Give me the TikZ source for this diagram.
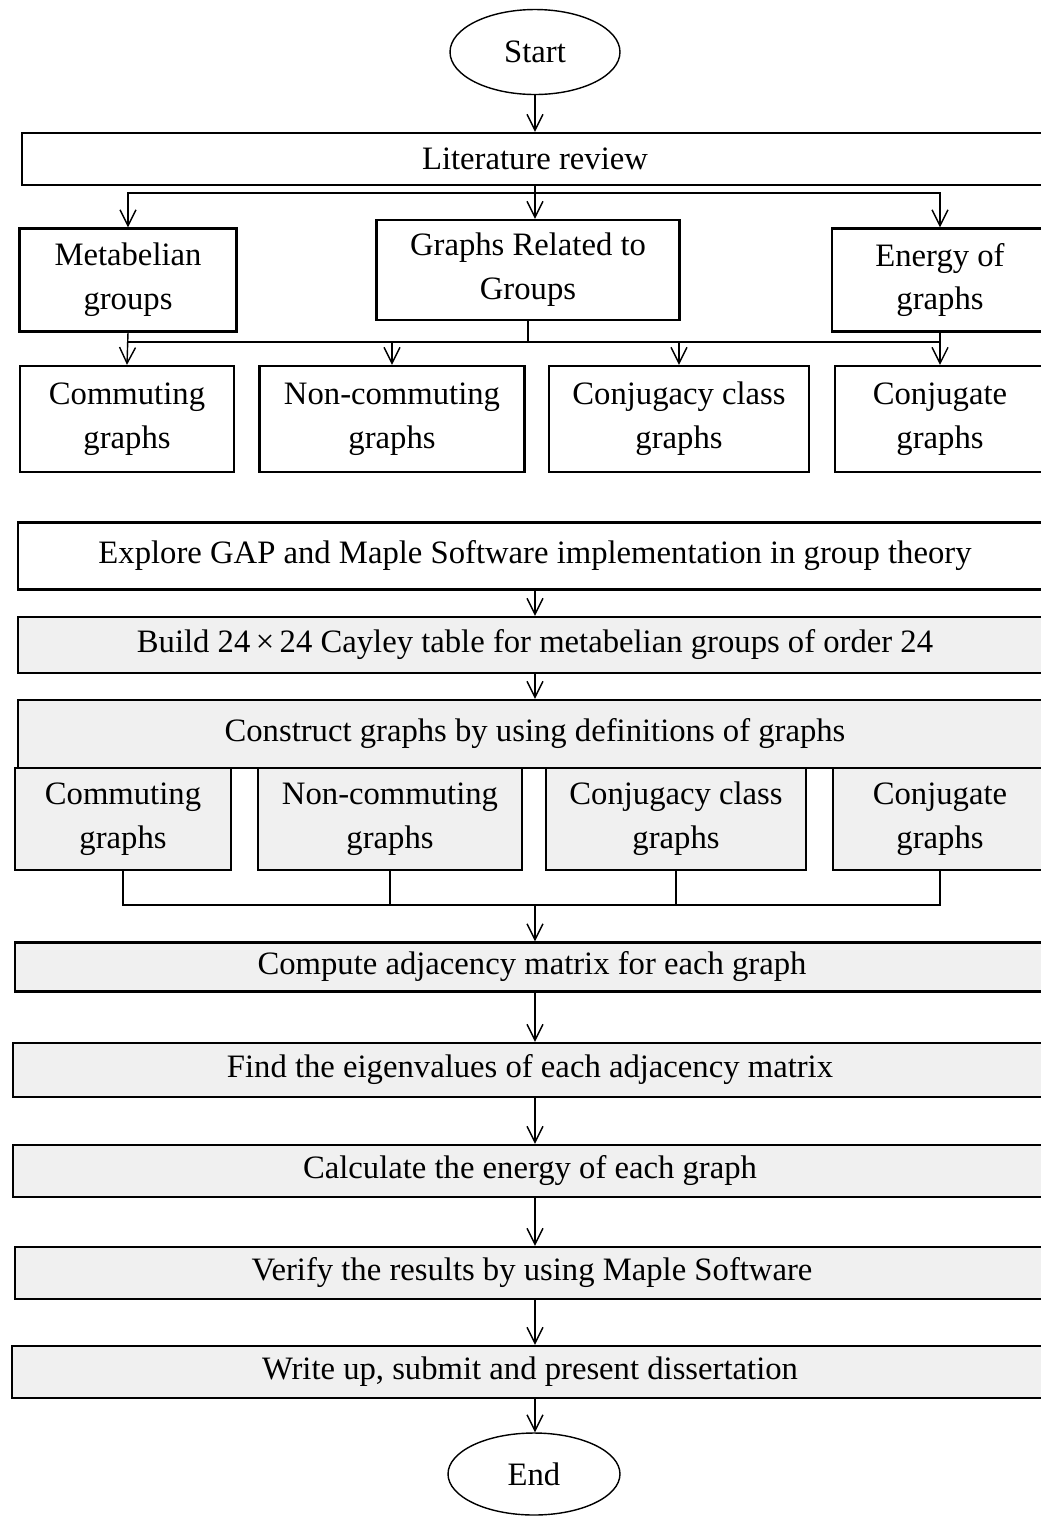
\documentclass[tikz,border=0pt]{standalone}
\usepackage{fontspec}
\setmainfont{Liberation Serif}
\usetikzlibrary{arrows.meta, positioning, shapes.geometric}
\definecolor{fgray}{HTML}{F0F0F0}
\tikzset{
  wbox/.style={draw, line width=1.3pt, fill=white, align=center, inner sep=2pt,
               font=\fontsize{18.6}{25}\selectfont},
  gbox/.style={wbox, fill=fgray},
  term/.style={draw, ellipse, line width=0.8pt, fill=white, inner sep=0pt,
               font=\fontsize{18.6}{25}\selectfont},
  arr/.style={-{Straight Barb[length=3.2mm,width=3.2mm]}, line width=0.8pt},
  bus/.style={line width=0.8pt},
}
\begin{document}
\begin{tikzpicture}[x=0.02cm, y=-0.02cm]
  \clip (0,0) rectangle (1041,1516);
  % terminals and the top part
  \node[term, minimum width=3.4cm, minimum height=1.7cm] (start) at (535,52) {Start};
  \node[wbox, minimum width=20.52cm, minimum height=1.04cm] (lit) at (535,159) {Literature review};
  \node[wbox, minimum width=4.34cm, minimum height=2.06cm] (met) at (128,280) {Metabelian\\groups};
  \node[wbox, minimum width=6.06cm, minimum height=2cm] (grg) at (528,270) {Graphs Related to\\Groups};
  \node[wbox, minimum width=4.32cm, minimum height=2.06cm] (ene) at (940,280) {Energy of\\graphs};
  \node[wbox, minimum width=4.28cm, minimum height=2.12cm] (com1) at (127,419) {Commuting\\graphs};
  \node[wbox, minimum width=5.3cm, minimum height=2.12cm] (non1) at (392,419) {Non-commuting\\graphs};
  \node[wbox, minimum width=5.2cm, minimum height=2.12cm] (cjc1) at (679,419) {Conjugacy class\\graphs};
  \node[wbox, minimum width=4.2cm, minimum height=2.12cm] (cjt1) at (940,419) {Conjugate\\graphs};
  % method part
  \node[wbox, minimum width=20.68cm, minimum height=1.34cm] (exp) at (535,556) {Explore GAP and Maple Software implementation in group theory};
  \node[gbox, minimum width=20.68cm, minimum height=1.12cm] (bld) at (535,645) {Build 24\,×\,24 Cayley table for metabelian groups of order 24};
  \node[gbox, minimum width=20.68cm, minimum height=1.36cm] (con) at (535,734) {Construct graphs by using definitions of graphs};
  \node[gbox, minimum width=4.32cm, minimum height=2.04cm] (com2) at (123,819) {Commuting\\graphs};
  \node[gbox, minimum width=5.28cm, minimum height=2.04cm] (non2) at (390,819) {Non-commuting\\graphs};
  \node[gbox, minimum width=5.2cm, minimum height=2.04cm] (cjc2) at (676,819) {Conjugacy class\\graphs};
  \node[gbox, minimum width=4.28cm, minimum height=2.04cm] (cjt2) at (940,819) {Conjugate\\graphs};
  \node[gbox, minimum width=20.68cm, minimum height=0.98cm] (cmp) at (532,967) {Compute adjacency matrix for each graph};
  \node[gbox, minimum width=20.68cm, minimum height=1.08cm] (eig) at (530,1070) {Find the eigenvalues of each adjacency matrix};
  \node[gbox, minimum width=20.68cm, minimum height=1.04cm] (eng) at (530,1171) {Calculate the energy of each graph};
  \node[gbox, minimum width=20.68cm, minimum height=1.04cm] (ver) at (532,1273) {Verify the results by using Maple Software};
  \node[gbox, minimum width=20.72cm, minimum height=1.04cm] (wrt) at (530,1372) {Write up, submit and present dissertation};
  \node[term, minimum width=3.44cm, minimum height=1.64cm] (end) at (534,1474) {End};
  % bus points
  \coordinate (b1) at (535,193);
  \coordinate (b2) at (528,342);
  \coordinate (b3) at (535,905);
  % connectors
  \draw[arr] (start) -- (lit);
  \draw[bus] (lit.south) -- (b1);
  \draw[arr] (b1) -| (met.north);
  \draw[arr] (b1) -| (ene.north);
  \draw[arr] (b1) -- (b1 |- grg.north);
  \draw[bus] (grg.south) -- (b2);
  \draw[bus] (met.south |- b2) -- (ene.south |- b2);
  \draw[arr] (met.south) -- (com1.north);
  \draw[arr] (ene.south) -- (cjt1.north);
  \draw[arr] (non1.north |- b2) -- (non1.north);
  \draw[arr] (cjc1.north |- b2) -- (cjc1.north);
  \draw[arr] (exp) -- (bld);
  \draw[arr] (bld) -- (con);
  \draw[bus] (com2.south) -- (com2.south |- b3) -- (cjt2.south |- b3) -- (cjt2.south);
  \draw[bus] (non2.south) -- (non2.south |- b3);
  \draw[bus] (cjc2.south) -- (cjc2.south |- b3);
  \draw[arr] (b3) -- (b3 |- cmp.north);
  \draw[arr] (cmp.south -| b3) -- (eig.north -| b3);
  \draw[arr] (eig.south -| b3) -- (eng.north -| b3);
  \draw[arr] (eng.south -| b3) -- (ver.north -| b3);
  \draw[arr] (ver.south -| b3) -- (wrt.north -| b3);
  \draw[arr] (wrt.south -| b3) -- (end.north -| b3);
\end{tikzpicture}
\end{document}
